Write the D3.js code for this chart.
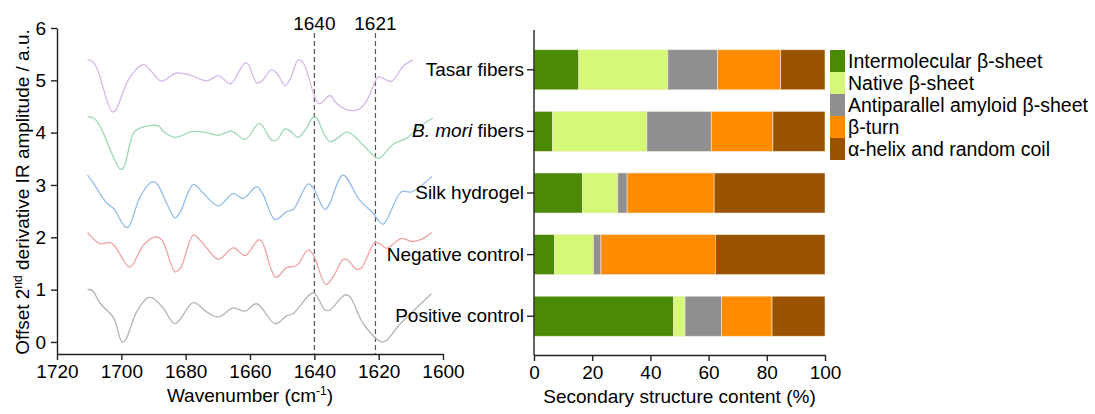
<!DOCTYPE html>
<html>
<head>
<meta charset="utf-8">
<script src="https://cdn.jsdelivr.net/npm/d3@7"></script>
<style>
  body { margin: 0; background: #fff; }
  text { font-family: "Liberation Sans", Arial, sans-serif; fill: #000; }
</style>
</head>
<body>
<script>
// ---- left panel: 2nd derivative spectra, [wavenumber, offset amplitude]
const tasarSpectrum = [[1710.5,5.39],[1709.1,5.37],[1707.6,5.23],[1702.9,4.40],[1701.9,4.42],[1697.8,5.01],[1693.7,5.29],[1692.6,5.29],[1687.9,4.99],[1686.9,4.99],[1682.8,5.14],[1678.1,5.09],[1673.4,4.99],[1669.8,5.09],[1666.2,4.93],[1665.2,4.98],[1661.6,5.33],[1660.6,5.31],[1657.9,4.95],[1656.4,4.98],[1653.3,5.20],[1651.7,5.14],[1649.1,4.90],[1647.6,5.01],[1645.0,5.39],[1643.4,5.33],[1640.3,4.76],[1638.8,4.56],[1637.7,4.57],[1635.2,4.71],[1633.1,4.56],[1630.0,4.44],[1626.4,4.44],[1623.8,4.60],[1620.2,5.06],[1619.1,5.05],[1616.0,4.98],[1612.4,5.27],[1609.3,5.39]];
const moriSpectrum = [[1710.5,4.30],[1708.6,4.28],[1706.6,4.12],[1700.3,3.30],[1699.3,3.33],[1696.2,3.99],[1694.1,4.09],[1688.4,4.13],[1686.9,4.02],[1683.3,3.91],[1678.1,4.02],[1673.4,4.00],[1669.8,3.95],[1665.7,4.03],[1661.6,3.87],[1657.4,4.17],[1656.4,4.15],[1653.3,3.86],[1651.7,3.86],[1649.1,4.07],[1647.6,4.04],[1645.0,3.91],[1642.4,4.09],[1640.3,4.30],[1639.3,4.28],[1635.2,3.83],[1630.0,4.01],[1628.5,3.98],[1620.7,3.52],[1619.7,3.51],[1615.5,3.78],[1611.4,3.89],[1607.2,4.12],[1603.1,4.28]];
const hydrogelSpectrum = [[1710.5,3.19],[1708.6,3.03],[1704.5,2.65],[1702.4,2.55],[1698.8,2.20],[1697.8,2.20],[1694.1,2.78],[1690.5,3.06],[1689.0,3.03],[1685.9,2.65],[1683.3,2.37],[1681.7,2.48],[1677.6,3.01],[1674.5,2.84],[1669.8,2.60],[1665.2,2.84],[1662.1,2.74],[1657.9,2.97],[1655.9,2.81],[1652.2,2.34],[1648.6,2.49],[1646.6,2.53],[1641.9,3.02],[1640.3,2.94],[1636.7,2.53],[1635.2,2.65],[1631.1,3.19],[1625.9,2.71],[1621.7,2.46],[1620.2,2.33],[1618.6,2.25],[1612.9,2.87],[1609.7,2.87],[1603.5,3.16]];
const negativeSpectrum = [[1710.5,2.09],[1706.6,1.88],[1703.4,1.90],[1701.9,1.82],[1697.8,1.44],[1696.8,1.45],[1693.1,1.85],[1689.5,2.01],[1687.4,1.95],[1683.3,1.34],[1681.7,1.40],[1677.6,2.04],[1675.6,1.95],[1673.4,1.79],[1669.8,1.58],[1665.2,1.80],[1662.1,1.66],[1661.1,1.66],[1657.4,1.95],[1656.4,1.93],[1653.3,1.37],[1651.9,1.23],[1648.6,1.42],[1645.5,1.46],[1641.9,1.76],[1640.3,1.66],[1636.4,1.10],[1634.1,1.25],[1631.0,1.58],[1629.5,1.56],[1626.9,1.39],[1625.4,1.41],[1621.2,1.90],[1619.7,1.88],[1617.6,1.79],[1612.9,1.98],[1609.7,1.92],[1606.7,1.96],[1603.5,2.09]];
const positiveSpectrum = [[1710.5,1.00],[1709.1,0.99],[1706.6,0.74],[1702.4,0.46],[1699.8,0.00],[1698.8,0.03],[1695.2,0.58],[1691.6,0.85],[1690.0,0.83],[1686.9,0.64],[1683.3,0.35],[1677.6,0.75],[1673.4,0.57],[1669.8,0.48],[1665.2,0.65],[1661.6,0.59],[1657.9,0.73],[1652.2,0.35],[1648.6,0.50],[1646.6,0.54],[1640.3,0.94],[1636.7,0.61],[1635.2,0.61],[1630.5,0.90],[1629.0,0.87],[1624.8,0.35],[1619.1,0.00],[1617.6,0.03],[1613.5,0.33],[1603.6,0.92]];

const spectra = [tasarSpectrum, moriSpectrum, hydrogelSpectrum, negativeSpectrum, positiveSpectrum];
const spectraColors = ["#d6b8e9", "#9ed8b4", "#94bdea", "#efa4a4", "#b4b4b4"];
const markerPositions = [1640, 1621];
const wnTicks = [1720, 1700, 1680, 1660, 1640, 1620, 1600];
const ampTicks = [0, 1, 2, 3, 4, 5, 6];

// ---- right panel: secondary structure (%)
const samples = ["Tasar fibers", "B. mori fibers", "Silk hydrogel", "Negative control", "Positive control"];
const structures = ["Intermolecular β-sheet", "Native β-sheet", "Antiparallel amyloid β-sheet", "β-turn", "α-helix and random coil"];
const intermolecular = [15.4, 6.4, 16.6, 7.1, 48.0];
const nativeSheet    = [30.6, 32.4, 12.2, 13.3, 3.9];
const amyloidSheet   = [17.1, 22.1, 3.2, 2.6, 12.5];
const betaTurn       = [21.7, 21.2, 29.9, 39.3, 17.4];
const helixCoil      = [15.2, 17.9, 38.1, 37.7, 18.2];
const structureColors = ["#4a8a04", "#d5f878", "#8f8f8f", "#ff8c00", "#995300"];
const contentTicks = [0, 20, 40, 60, 80, 100];

const svg = d3.select("body").append("svg")
  .attr("width", 1095)
  .attr("height", 414);

const fs = 19;

function styleAxis(g) {
  g.select(".domain").attr("stroke", "#222").attr("stroke-width", 1.4);
  g.selectAll(".tick line").attr("stroke", "#222").attr("stroke-width", 1.4);
  g.selectAll(".tick text")
    .attr("font-size", fs)
    .attr("font-family", "Liberation Sans, Arial, sans-serif")
    .attr("fill", "#000");
}

// ================= left panel =================
const x = d3.scaleLinear().domain([1720, 1600]).range([57, 443]);
const y = d3.scaleLinear().domain([-0.23, 6]).range([354, 28]);

svg.append("g")
  .attr("transform", "translate(0,354)")
  .call(d3.axisBottom(x).tickValues(wnTicks).tickFormat(d3.format("d")).tickSize(6).tickPadding(5).tickSizeOuter(0))
  .call(styleAxis);

svg.append("g")
  .attr("transform", "translate(57,0)")
  .call(d3.axisLeft(y).tickValues(ampTicks).tickFormat(d3.format("d")).tickSize(6).tickPadding(5).tickSizeOuter(0))
  .call(styleAxis);

// dashed marker lines
markerPositions.forEach(m => {
  svg.append("line")
    .attr("x1", x(m)).attr("x2", x(m))
    .attr("y1", 33).attr("y2", 354)
    .attr("stroke", "#555")
    .attr("stroke-width", 1.2)
    .attr("stroke-dasharray", "5,3");
  svg.append("text")
    .attr("x", x(m)).attr("y", 30)
    .attr("text-anchor", "middle")
    .attr("font-size", fs)
    .text(m);
});

const line = d3.line()
  .x(d => x(d[0]))
  .y(d => y(d[1]))
  .curve(d3.curveCatmullRom.alpha(0.5));

spectra.forEach((s, i) => {
  svg.append("path")
    .datum(s)
    .attr("d", line)
    .attr("fill", "none")
    .attr("stroke", spectraColors[i])
    .attr("stroke-width", 1.3);
});

// axis titles
const wnLabel = svg.append("text")
  .attr("x", x(1660)).attr("y", 402)
  .attr("text-anchor", "middle")
  .attr("font-size", fs);
wnLabel.append("tspan").text("Wavenumber (cm");
wnLabel.append("tspan").attr("font-size", 12).attr("dy", -7).text("-1");
wnLabel.append("tspan").attr("dy", 7).text(")");

const ampLabel = svg.append("text")
  .attr("transform", "translate(29,192) rotate(-90)")
  .attr("text-anchor", "middle")
  .attr("font-size", fs);
ampLabel.append("tspan").text("Offset  2");
ampLabel.append("tspan").attr("font-size", 12).attr("dy", -7).text("nd");
ampLabel.append("tspan").attr("dy", 7).text(" derivative IR amplitude / a.u.");

// ================= right panel =================
const xs = d3.scaleLinear().domain([0, 100]).range([534, 825]);
const ys = d3.scaleBand().domain(samples).range([39, 347]).paddingInner(0.35).paddingOuter(0.175);

const series = [intermolecular, nativeSheet, amyloidSheet, betaTurn, helixCoil];
const table = samples.map((s, i) => {
  const row = { sample: s };
  structures.forEach((k, j) => row[k] = series[j][i]);
  return row;
});
const stacked = d3.stack().keys(structures)(table);

svg.append("g")
  .selectAll("g")
  .data(stacked)
  .enter().append("g")
  .attr("fill", (d, i) => structureColors[i])
  .selectAll("rect")
  .data(d => d)
  .enter().append("rect")
  .attr("x", d => xs(d[0]))
  .attr("width", d => xs(d[1]) - xs(d[0]))
  .attr("y", d => ys(d.data.sample))
  .attr("height", ys.bandwidth())
  .attr("stroke", "#f3ead8")
  .attr("stroke-width", 0.6);

svg.append("g")
  .attr("transform", "translate(0,355)")
  .call(d3.axisBottom(xs).tickValues(contentTicks).tickSize(6).tickPadding(5).tickSizeOuter(0))
  .call(styleAxis);

const yAxisG = svg.append("g")
  .attr("transform", "translate(534,0)")
  .call(d3.axisLeft(ys).tickSize(7).tickPadding(3).tickSizeOuter(0))
  .call(styleAxis);
yAxisG.select(".domain").attr("d", "M0,30V355");

// italic species name
yAxisG.selectAll(".tick text")
  .filter(d => d === "B. mori fibers")
  .text(null)
  .call(t => {
    t.append("tspan").attr("font-style", "italic").text("B. mori");
    t.append("tspan").text(" fibers");
  });

svg.append("text")
  .attr("x", xs(50)).attr("y", 403)
  .attr("text-anchor", "middle")
  .attr("font-size", fs)
  .text("Secondary structure content (%)");

// legend
const legend = svg.append("g").attr("transform", "translate(830,50)");
structures.forEach((k, i) => {
  legend.append("rect")
    .attr("x", 0).attr("y", i * 22)
    .attr("width", 15).attr("height", 22)
    .attr("fill", structureColors[i]);
  legend.append("text")
    .attr("x", 18).attr("y", i * 22 + 11)
    .attr("dy", "0.35em")
    .attr("font-size", 19.5)
    .text(k);
});
</script>
</body>
</html>
